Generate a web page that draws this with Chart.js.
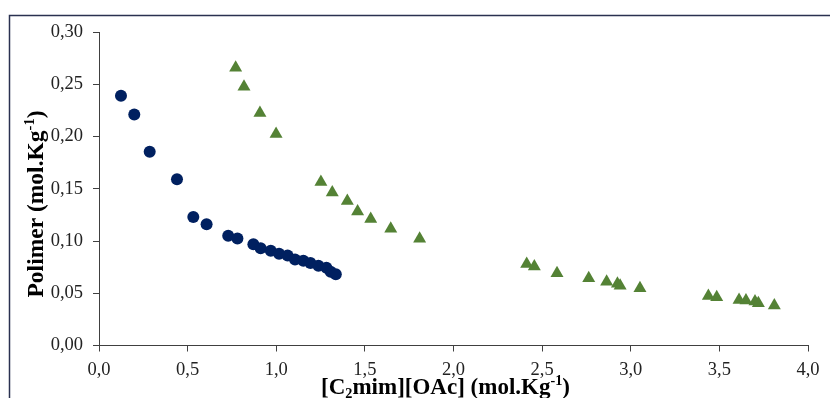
<!DOCTYPE html>
<html>
<head>
<meta charset="utf-8">
<script src="https://cdn.jsdelivr.net/npm/chart.js@4/dist/chart.umd.min.js"></script>
<style>
  html, body { margin: 0; padding: 0; background: #ffffff; }
  #wrap { position: relative; width: 830px; height: 398px; }
</style>
</head>
<body>
<div id="wrap"><canvas id="c" width="830" height="398"></canvas></div>
<script>
// ---- data ----
const circleX = [0.124, 0.199, 0.286, 0.440, 0.532, 0.607, 0.729, 0.781, 0.871, 0.912,
                 0.969, 1.016, 1.064, 1.106, 1.153, 1.193, 1.238, 1.283, 1.307, 1.336];
const circleY = [0.239, 0.221, 0.1855, 0.159, 0.123, 0.116, 0.105, 0.1025, 0.097, 0.093,
                 0.0907, 0.0878, 0.0862, 0.0822, 0.081, 0.079, 0.0764, 0.0745, 0.0705, 0.0681];
const triX = [0.771, 0.818, 0.908, 0.999, 1.252, 1.316, 1.401, 1.459, 1.533, 1.646, 1.809,
              2.413, 2.456, 2.584, 2.763, 2.864, 2.925, 2.940, 3.052, 3.438, 3.485, 3.611,
              3.650, 3.701, 3.720, 3.810];
const triY = [0.2657, 0.2476, 0.2226, 0.2024, 0.1564, 0.1465, 0.1382, 0.1283, 0.1210, 0.1117, 0.1021,
              0.0781, 0.0755, 0.0692, 0.0644, 0.0609, 0.0590, 0.0572, 0.0548, 0.0474, 0.0462, 0.0436,
              0.0430, 0.0420, 0.0404, 0.0382];
const xTickValues = [0, 0.5, 1.0, 1.5, 2.0, 2.5, 3.0, 3.5, 4.0];
const yTickValues = [0, 0.05, 0.10, 0.15, 0.20, 0.25, 0.30];
const xTitleParts = [["[C", ""], ["2", "sub"], ["mim][OAc] (mol.Kg", ""], ["-1", "sup"], [")", ""]];
const yTitleParts = [["Polimer (mol.Kg", ""], ["-1", "sup"], [")", ""]];

const toPts = (xs, ys) => xs.map((x, i) => ({ x: x, y: ys[i] }));
const comma = (v, d) => v.toFixed(d).replace('.', ',');

const FONT = "'Liberation Serif', 'Times New Roman', serif";
const AXIS = '#404040';

function drawRich(ctx, parts, size) {
  let total = 0;
  const segs = parts.map(([t, k]) => {
    const s = k ? size * 0.62 : size;
    ctx.font = 'bold ' + s + 'px ' + FONT;
    const w = ctx.measureText(t).width;
    total += w;
    return { t, k, s, w };
  });
  let x = -total / 2;
  ctx.textBaseline = 'alphabetic';
  ctx.textAlign = 'left';
  segs.forEach(sg => {
    ctx.font = 'bold ' + sg.s + 'px ' + FONT;
    let dy = 0;
    if (sg.k === 'sub') dy = size * 0.18;
    if (sg.k === 'sup') dy = -size * 0.38;
    ctx.fillText(sg.t, x, dy);
    x += sg.w;
  });
}

const decor = {
  id: 'decor',
  afterDraw(chart) {
    const ctx = chart.ctx;
    const xs = chart.scales.x;
    ctx.save();
    ctx.strokeStyle = '#2a3150';
    ctx.lineWidth = 1.5;
    ctx.strokeRect(9.5, 15.5, 900, 500);
    ctx.fillStyle = '#000000';
    ctx.save();
    ctx.translate((xs.left + xs.right) / 2 - 8, 394);
    drawRich(ctx, xTitleParts, 23);
    ctx.restore();
    ctx.save();
    ctx.translate(43, 204);
    ctx.rotate(-Math.PI / 2);
    drawRich(ctx, yTitleParts, 23.5);
    ctx.restore();
    ctx.restore();
  }
};

new Chart(document.getElementById('c'), {
  type: 'scatter',
  data: {
    datasets: [
      {
        label: 'circles',
        data: toPts(circleX, circleY),
        pointStyle: 'circle',
        pointRadius: 6,
        pointHoverRadius: 6,
        backgroundColor: '#002060',
        borderColor: '#002060',
        borderWidth: 0
      },
      {
        label: 'triangles',
        data: toPts(triX, triY),
        pointStyle: 'triangle',
        pointRadius: 7.5,
        pointHoverRadius: 7.5,
        backgroundColor: '#548235',
        borderColor: '#548235',
        borderWidth: 0
      }
    ]
  },
  options: {
    responsive: false,
    animation: false,
    devicePixelRatio: 1,
    layout: { padding: { left: 0, right: 22, top: 32, bottom: 0 } },
    plugins: { legend: { display: false }, tooltip: { enabled: false } },
    scales: {
      x: {
        type: 'linear',
        min: 0, max: 4,
        afterBuildTicks: s => { s.ticks = xTickValues.map(v => ({ value: v })); },
        afterFit: s => { s.height = 52.5; },
        grid: { display: true, drawOnChartArea: false, drawTicks: true, tickLength: 6, color: AXIS },
        border: { display: true, color: AXIS, width: 1 },
        ticks: {
          padding: 8,
          color: '#222222',
          font: { family: FONT, size: 18.5 },
          maxRotation: 0,
          callback: v => comma(v, 1)
        }
      },
      y: {
        type: 'linear',
        min: 0, max: 0.3,
        afterBuildTicks: s => { s.ticks = yTickValues.map(v => ({ value: v })); },
        afterFit: s => { s.width = 99; },
        grid: { display: true, drawOnChartArea: false, drawTicks: true, tickLength: 6, color: AXIS },
        border: { display: true, color: AXIS, width: 1 },
        ticks: {
          padding: 10,
          color: '#222222',
          font: { family: FONT, size: 18.5 },
          callback: v => comma(v, 2)
        }
      }
    }
  },
  plugins: [decor]
});
</script>
</body>
</html>
